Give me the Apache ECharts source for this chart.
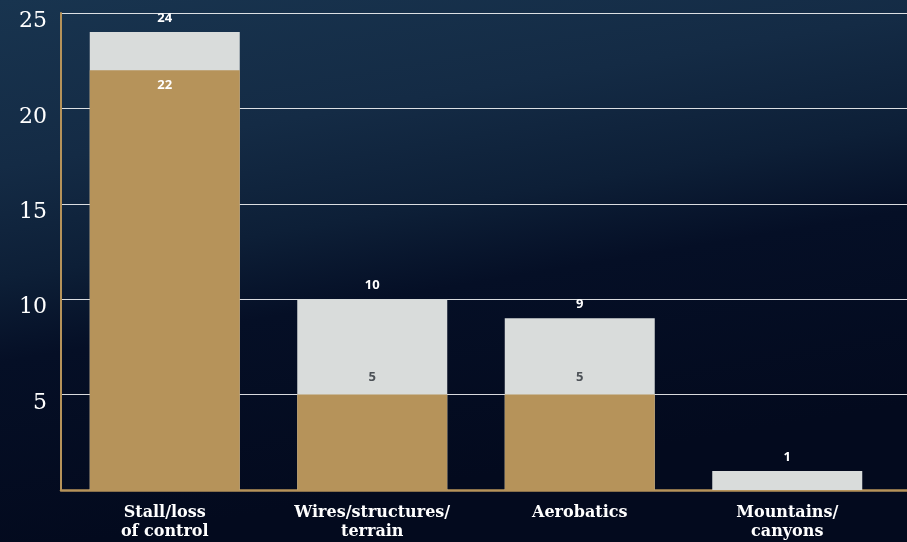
<!DOCTYPE html>
<html>
<head>
<meta charset="utf-8">
<script src="https://cdn.jsdelivr.net/npm/echarts@6/dist/echarts.min.js"></script>
<style>
  html, body { margin: 0; padding: 0; }
  #chart { width: 907px; height: 542px; }
</style>
</head>
<body>
<div id="chart"></div>
<script>
// 数据
const categories = ['Stall/loss\nof control', 'Wires/structures/\nterrain', 'Aerobatics', 'Mountains/\ncanyons']
const totals = [24, 10, 9, 1]
const goldValues = [22, 5, 5, 0]
const yTicks = [0, 5, 10, 15, 20, 25]

const gold = '#b6935a'
const grey = '#d9dcdb'
const gridPos = {top: 13, bottom: 52, left: 61}

const chart = echarts.init(document.getElementById('chart'))

// 金色柱子标签：接近总数时放在柱内，否则放在柱顶上方
const goldData = goldValues.map((v, i) => {
  const inside = totals[i] - v < 3
  return {
    value: v,
    label: {
      show: v > 0,
      position: inside ? 'insideTop' : 'top',
      distance: inside ? 9 : 11,
      color: inside ? '#ffffff' : '#4d5257'
    }
  }
})

const option = {
  backgroundColor: {
    type: 'linear', x: 0, y: 0, x2: 0.1, y2: 1,
    colorStops: [
      {offset: 0, color: '#18344f'},
      {offset: 0.3, color: '#142b45'},
      {offset: 0.5, color: '#0d1f37'},
      {offset: 0.65, color: '#050f26'},
      {offset: 1, color: '#030a1e'}
    ]
  },
  animation: false,
  grid: [
    {...gridPos, right: 16},
    {...gridPos, right: 0}
  ],
  xAxis: [
    {
      type: 'category',
      gridIndex: 0,
      data: categories,
      axisLine: {show: false},
      axisTick: {show: false},
      axisLabel: {
        color: '#ffffff',
        fontFamily: 'DejaVu Serif',
        fontWeight: 'bold',
        fontSize: 16,
        lineHeight: 19,
        margin: 13
      }
    },
    {
      type: 'value',
      gridIndex: 1,
      min: 0,
      max: 1,
      axisLine: {show: true, lineStyle: {color: gold, width: 2.5}},
      axisTick: {show: false},
      axisLabel: {show: false},
      splitLine: {show: false}
    }
  ],
  yAxis: [
    {
      type: 'value',
      gridIndex: 0,
      min: yTicks[0],
      max: yTicks[yTicks.length - 1],
      interval: 5,
      axisLine: {show: true, lineStyle: {color: gold, width: 2}},
      axisTick: {show: false},
      splitLine: {show: false},
      axisLabel: {
        showMinLabel: false,
        color: '#ffffff',
        fontFamily: 'DejaVu Serif',
        fontSize: 22,
        margin: 14,
        verticalAlign: 'top',
        lineHeight: 17
      }
    },
    {
      type: 'value',
      gridIndex: 1,
      min: yTicks[0],
      max: yTicks[yTicks.length - 1],
      interval: 5,
      axisLine: {show: false},
      axisTick: {show: false},
      axisLabel: {show: false},
      splitLine: {lineStyle: {color: 'rgba(255,255,255,0.85)', width: 1}}
    }
  ],
  series: [
    {
      name: 'total',
      type: 'bar',
      xAxisIndex: 0,
      yAxisIndex: 0,
      data: totals,
      barWidth: 150,
      barGap: '-100%',
      itemStyle: {color: grey},
      label: {
        show: true,
        position: 'top',
        distance: 7,
        color: '#ffffff',
        fontFamily: 'Open Sans',
        fontWeight: 'bold',
        fontSize: 13
      }
    },
    {
      name: 'gold',
      type: 'bar',
      xAxisIndex: 0,
      yAxisIndex: 0,
      data: goldData,
      barWidth: 150,
      barGap: '-100%',
      itemStyle: {color: gold},
      label: {
        fontFamily: 'Open Sans',
        fontWeight: 'bold',
        fontSize: 13
      }
    }
  ]
}
chart.setOption(option)
</script>
</body>
</html>
